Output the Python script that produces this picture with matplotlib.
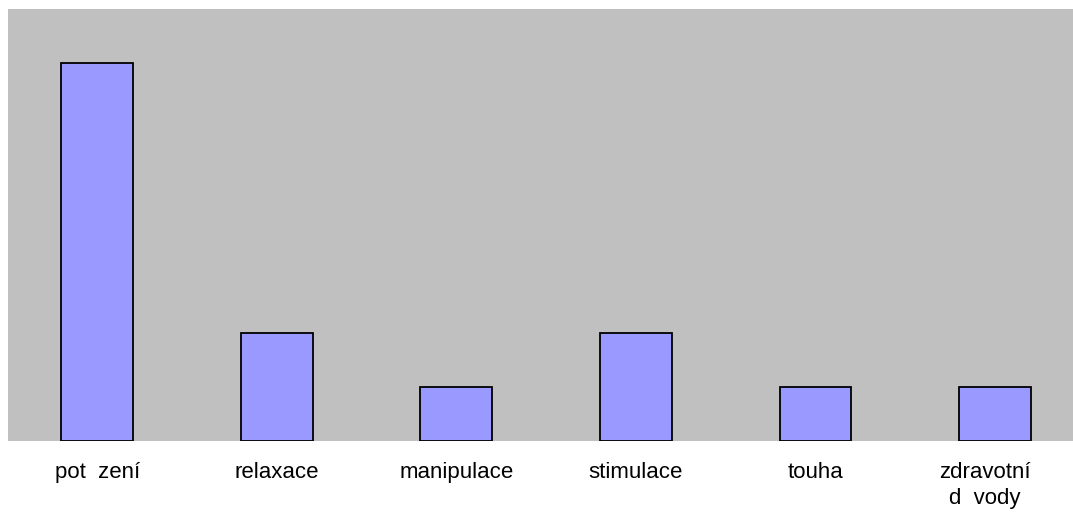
import matplotlib.pyplot as plt
from matplotlib.transforms import ScaledTranslation

categories = ["pot  zení", "relaxace", "manipulace", "stimulace", "touha", "zdravotní\nd  vody"]
values = [7, 2, 1, 2, 1, 1]

plt.rcParams["font.family"] = ["Liberation Sans", "DejaVu Sans"]

fig = plt.figure(figsize=(10.73, 5.17), dpi=100, facecolor="white")
ax = fig.add_axes([8 / 1073, 1 - 441 / 517, (1073 - 8) / 1073, (441 - 9) / 517])
ax.set_facecolor("#c0c0c0")

x = range(len(categories))
ax.bar(x, values, width=0.4, color="#9999ff", edgecolor="black", linewidth=1.3, zorder=2)

ax.set_xlim(-0.496, 5.434)
ax.set_ylim(0, 8)
ax.set_xticks(list(x))
labels = ax.set_xticklabels(categories, fontsize=16, linespacing=1.35)
ax.tick_params(axis="x", length=0, pad=15)
ax.set_yticks([])
for s in ax.spines.values():
    s.set_visible(False)

# последняя подпись (перенесённая) сдвинута чуть влево
labels[-1].set_transform(labels[-1].get_transform() + ScaledTranslation(-0.1, 0, fig.dpi_scale_trans))

fig.savefig("out.png", dpi=100)
